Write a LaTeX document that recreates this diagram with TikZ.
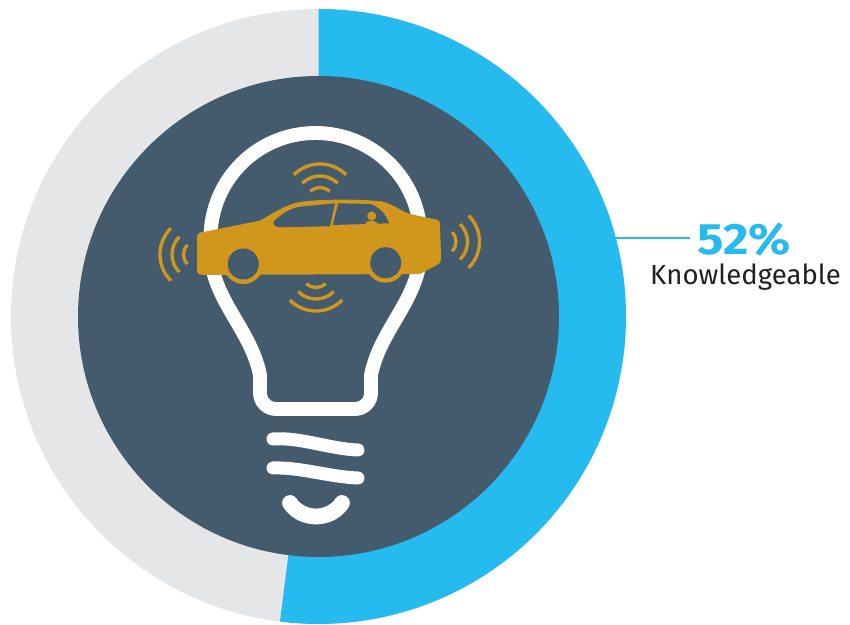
\documentclass[tikz,border=0pt]{standalone}
\usepackage{fontspec}
\setmainfont{Fira Sans}
\newfontfamily\pctfont{Fira Sans}[FakeStretch=1.12]
\definecolor{ringgrey}{HTML}{E5E6E8}
\definecolor{ringblue}{HTML}{25BBEE}
\definecolor{disc}{HTML}{445B6E}
\definecolor{gold}{HTML}{D0971C}
\definecolor{ink}{HTML}{231F20}
\tikzset{
	bulb/.style = {draw=white, line width=7.9pt, line join=round},
	thread/.style = {draw=white, line width=7.4pt, line cap=round},
	wave/.style = {draw=gold, line width=1.9pt},
	leader/.style = {draw=ringblue, line width=1.2pt},
	pct/.style = {inner xsep=4pt, inner ysep=0pt, text=ringblue,
		font=\pctfont\fontsize{25}{25}\selectfont\bfseries},
	subtext/.style = {inner sep=0pt, text=ink,
		font=\fontsize{15.7}{16}\selectfont}
}

\begin{document}
\begin{tikzpicture}[x=0.02cm, y=0.02cm]
		\useasboundingbox (0,0) rectangle (850,625);
		% ring and disc
		\coordinate (c) at (318.5,308.5);
		\fill[ringgrey] (c) circle (307.5);
		\fill[ringblue] (c) -- ++(90:307.5)
			arc[start angle=90, end angle=-97.2, radius=307.5] -- cycle;
		\fill[disc] (c) circle (240.5);
		% bulb
		\draw[bulb] (260,250) .. controls (250,300) and (205,330) .. (210.5,387)
			arc[start angle=180, end angle=0, radius=105]
			.. controls (426,330) and (381,300) .. (371,250)
			-- (371,232) arc[start angle=0, end angle=-90, radius=16]
			-- (276,216) arc[start angle=270, end angle=180, radius=16] -- cycle;
		\draw[thread] (273,186) .. controls (300,188) and (330,176) .. (358,175);
		\draw[thread] (273,157) .. controls (300,158) and (330,148) .. (358,147);
		\draw[thread, line width=9pt] (290,122) .. controls (302,104) and (330,104) .. (342,122);
		% signal waves
		\coordinate (up) at (320,424);
		\coordinate (down) at (316,351);
		\coordinate (rear) at (197,370.5);
		\coordinate (front) at (442.5,383.3);
		\foreach \r in {13.5,25,37} {
			\draw[wave] (up) ++(45:\r) arc[start angle=45, end angle=135, radius=\r];
			\draw[wave] (down) ++(225:\r) arc[start angle=225, end angle=315, radius=\r];
			\draw[wave] (rear) ++(135:\r) arc[start angle=135, end angle=225, radius=\r];
			\draw[wave] (front) ++(-45:\r) arc[start angle=-45, end angle=45, radius=\r];
		}
		% car
		\fill[gold] (197,385) .. controls (197,392) .. (205,393.3) -- (260,404.3)
			.. controls (280,416) and (290,422) .. (303,423.3)
			.. controls (320,426) and (365,426) .. (383,423.3)
			.. controls (395,420) and (400,414) .. (410,411) -- (430,406.7)
			.. controls (440,405) .. (440,398) -- (441,372)
			.. controls (441,362) .. (435,359) -- (420,351) -- (210,350)
			.. controls (197,350) .. (197,358) -- cycle;
		\fill[disc] (274,404) .. controls (284,413) and (292,417) .. (300,418.3)
			-- (335,421.7) -- (330,398.7) -- (280,397.7)
			.. controls (275,398) and (272,401) .. (274,404) -- cycle;
		\fill[disc] (338.3,421.7) -- (370,421)
			.. controls (380,418) and (386,410) .. (389.3,401.7)
			-- (332.7,400) -- cycle;
		\fill[gold] (371.7,409) circle (4.5);
		\fill[gold, rounded corners=2pt] (365.5,399.5) rectangle (377,404);
		\coordinate (lw) at (243.3,361);
		\coordinate (rw) at (385.7,362.3);
		\fill[gold] (lw) circle (20) (rw) circle (20);
		\fill[disc] (lw) circle (15.5) (rw) circle (15.5);
		% label
		\node[pct, anchor=base west] (pct) at (690,370) {52\%};
		\node[subtext, anchor=base] (know) at (745.5,340) {Knowledgeable};
		\coordinate (ring) at (612,387);
		\draw[leader] (ring) -- (ring -| pct.west);
\end{tikzpicture}
\end{document}
